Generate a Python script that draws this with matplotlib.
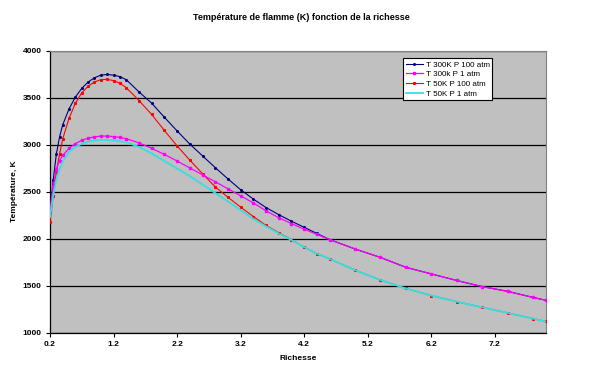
import matplotlib
matplotlib.use("Agg")
import matplotlib.pyplot as plt

richesse = [0.2, 0.25, 0.3, 0.35, 0.4, 0.5, 0.6, 0.7, 0.8, 0.9, 1.0, 1.1, 1.2, 1.3,
            1.4, 1.6, 1.8, 2.0, 2.2, 2.4, 2.6, 2.8, 3.0, 3.2, 3.4, 3.6, 3.8, 4.0,
            4.2, 4.4, 4.6, 5.0, 5.4, 5.8, 6.2, 6.6, 7.0, 7.4, 7.8, 8.0]

t300_p100 = [2280, 2620, 2900, 3080, 3210, 3380, 3505, 3598, 3665, 3710, 3738, 3745,
             3738, 3722, 3690, 3560, 3440, 3290, 3145, 3005, 2880, 2755, 2635, 2520,
             2420, 2330, 2255, 2185, 2120, 2055, 1990, 1890, 1800, 1695, 1625, 1555,
             1490, 1440, 1375, 1345]

t300_p1 = [2300, 2560, 2735, 2830, 2885, 2960, 3010, 3045, 3068, 3082, 3090, 3090,
           3085, 3076, 3062, 3018, 2960, 2895, 2825, 2752, 2678, 2605, 2530, 2455,
           2380, 2295, 2222, 2160, 2100, 2045, 1990, 1890, 1800, 1695, 1625, 1555,
           1490, 1440, 1375, 1345]

t50_p100 = [2180, 2450, 2710, 2900, 3060, 3280, 3440, 3550, 3620, 3665, 3690, 3693,
            3680, 3652, 3605, 3468, 3320, 3150, 2985, 2835, 2690, 2550, 2440, 2335,
            2235, 2140, 2062, 1988, 1910, 1840, 1785, 1665, 1560, 1470, 1395, 1330,
            1270, 1210, 1150, 1120]

t50_p1 = [2230, 2460, 2630, 2740, 2820, 2925, 2975, 3008, 3030, 3043, 3050, 3050,
          3045, 3035, 3025, 2975, 2905, 2825, 2745, 2665, 2575, 2485, 2395, 2302,
          2210, 2130, 2055, 1985, 1910, 1840, 1785, 1665, 1560, 1470, 1395, 1330,
          1270, 1210, 1150, 1120]

labels = ["T 300K P 100 atm", "T 300k P 1 atm", "T 50K P 100 atm", "T 50K P 1 atm"]
x_ticks = [0.2, 1.2, 2.2, 3.2, 4.2, 5.2, 6.2, 7.2]
y_ticks = [1000, 1500, 2000, 2500, 3000, 3500, 4000]

plt.rcParams['font.family'] = ['Liberation Sans', 'DejaVu Sans']

fig = plt.figure(figsize=(6.05, 3.77), dpi=100)
ax = fig.add_axes([50/605, 1-332.7/377, 495.7/605, 282.2/377])
ax.set_facecolor('#C0C0C0')

ax.plot(richesse, t300_p100, color='#000080', lw=0.8, marker='o', ms=1.2,
        label=labels[0], zorder=3)
ax.plot(richesse, t300_p1, color='#FF00FF', lw=0.9, marker='s', ms=1.5,
        label=labels[1], zorder=4)
ax.plot(richesse, t50_p100, color='#FF0000', lw=0.8, marker='s', ms=1.2,
        label=labels[2], zorder=3)
ax.plot(richesse, t50_p1, color='#33E0E0', lw=1.3,
        label=labels[3], zorder=4)

ax.set_xlim(0.2, 8.0)
ax.set_ylim(1000, 4000)
ax.set_xticks(x_ticks)
ax.set_xticklabels([f"{v:.1f}" for v in x_ticks])
ax.set_yticks(y_ticks)
ax.set_yticklabels([str(v) for v in y_ticks])
for lab in ax.get_xticklabels() + ax.get_yticklabels():
    lab.set_fontweight('bold')
    lab.set_fontsize(6)
ax.tick_params(axis='both', length=3, width=0.8, color='black', pad=3)

ax.yaxis.grid(True, color='black', lw=0.9)
ax.set_axisbelow(True)

ax.spines['left'].set_color('black')
ax.spines['bottom'].set_color('black')
ax.spines['left'].set_linewidth(0.9)
ax.spines['bottom'].set_linewidth(0.9)
ax.spines['top'].set_color('#808080')
ax.spines['right'].set_color('#808080')
ax.spines['top'].set_linewidth(0.8)
ax.spines['right'].set_linewidth(0.8)

ax.set_xlabel('Richesse', fontsize=6, fontweight='bold', labelpad=5)
ax.set_ylabel('Température, K', fontsize=6, fontweight='bold', labelpad=3.5)
fig.text(301.7/605, 1-18/377, 'Température de flamme (K) fonction de la richesse',
         ha='center', va='center', fontsize=6.5, fontweight='bold')

leg = ax.legend(loc='upper left', bbox_to_anchor=(0.7115, 0.973), fontsize=5.8,
                frameon=True, fancybox=False, edgecolor='black', framealpha=1,
                borderpad=0.35, labelspacing=0.25, handlelength=2.2,
                handletextpad=0.3, borderaxespad=0)
leg.get_frame().set_linewidth(0.8)

fig.savefig('out.png', dpi=100, facecolor='white')
